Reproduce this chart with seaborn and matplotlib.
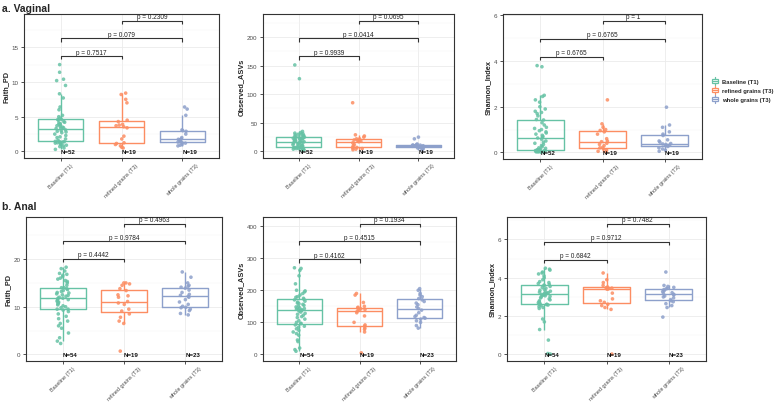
import numpy as np
import pandas as pd
import matplotlib
matplotlib.use("Agg")
import matplotlib.pyplot as plt
import seaborn as sns
from matplotlib.legend_handler import HandlerBase
from matplotlib.patches import Rectangle, Patch
from matplotlib.lines import Line2D
from matplotlib.ticker import MultipleLocator

# ---------------- data ----------------
groups = ["Baseline (T1)", "refined grains (T3)", "whole grains (T3)"]
palette = ["#66C2A5", "#FC8D62", "#8DA0CB"]
metrics = ["Faith_PD", "Observed_ASVs", "Shannon_Index"]

# Vaginal
vag_faith_base = [0.3, 0.5, 0.7, 0.8, 0.9, 1.0, 1.1, 1.2, 1.25, 1.3, 1.35, 1.4, 1.45,
                  1.45, 1.6, 1.8, 2.0, 2.1, 2.3, 2.5, 2.7, 2.8, 2.9, 3.0, 3.1, 3.3,
                  3.3, 3.4, 3.5, 3.6, 3.7, 3.8, 3.9, 4.0, 4.1, 4.2, 4.3, 4.5, 4.6,
                  4.6, 4.8, 5.0, 5.2, 6.0, 6.4, 7.7, 8.3, 9.5, 10.2, 10.4, 11.4, 12.5]
vag_faith_ref = [0.5, 0.6, 0.8, 1.0, 1.15, 1.25, 1.8, 2.2, 3.4, 3.55,
                 3.7, 3.8, 3.9, 4.3, 4.5, 7.0, 7.5, 8.2, 8.4]
vag_faith_whole = [0.8, 0.9, 1.0, 1.2, 1.25, 1.35, 1.4, 1.5, 1.7, 1.75,
                   1.8, 2.0, 2.5, 2.9, 3.0, 3.1, 5.2, 6.1, 6.4]

vag_obs_base = [2, 3, 4, 4, 5, 5, 6, 6, 7, 7, 7, 8, 8,
                8, 9, 10, 10, 11, 12, 13, 14, 14, 15, 16, 16, 17,
                17, 18, 19, 19, 20, 21, 21, 22, 23, 23, 24, 24, 25,
                25, 26, 27, 28, 29, 30, 30, 31, 32, 33, 35, 127, 151]
vag_obs_ref = [3, 4, 5, 6, 7, 7, 10, 12, 15, 17, 18, 19, 20, 22, 22, 25, 27, 29, 85]
vag_obs_whole = [3, 5, 6, 6, 7, 7, 8, 9, 9, 10, 10, 10, 11, 11, 11, 12, 13, 22, 25]

vag_shan_base = [0.01, 0.02, 0.03, 0.03, 0.04, 0.05, 0.05, 0.06, 0.07, 0.08, 0.08, 0.09, 0.1,
                 0.1, 0.12, 0.15, 0.18, 0.2, 0.25, 0.3, 0.35, 0.4, 0.45, 0.5, 0.58, 0.63,
                 0.67, 0.7, 0.75, 0.8, 0.85, 0.9, 0.95, 1.0, 1.05, 1.1, 1.2, 1.3, 1.42,
                 1.44, 1.6, 1.7, 1.75, 1.8, 1.9, 2.0, 2.2, 2.3, 2.45, 2.5, 3.75, 3.8]
vag_shan_ref = [0.02, 0.05, 0.1, 0.15, 0.2, 0.22, 0.3, 0.35, 0.4, 0.47,
                0.5, 0.6, 0.8, 0.9, 0.96, 1.0, 1.1, 1.25, 2.3]
vag_shan_whole = [0.05, 0.1, 0.15, 0.2, 0.26, 0.3, 0.32, 0.35, 0.37, 0.39,
                  0.45, 0.5, 0.55, 0.74, 0.8, 0.9, 1.1, 1.2, 1.98]

# Anal
anal_faith_base = [2.3, 2.8, 3.5, 4.5, 5.5, 6.0, 6.5, 7.0, 7.5, 8.0, 8.5, 9.0, 9.3, 9.5,
                   9.5, 9.8, 10.0, 10.2, 10.4, 10.6, 10.8, 11.0, 11.1, 11.3, 11.5, 11.6, 11.8,
                   11.8, 12.0, 12.2, 12.4, 12.5, 12.7, 12.9, 13.0, 13.2, 13.4, 13.6, 13.8, 14.0,
                   14.0, 14.5, 15.0, 15.3, 15.5, 15.8, 16.0, 16.3, 16.6, 16.8, 17.0, 17.5, 18.0, 18.3]
anal_faith_ref = [0.7, 6.5, 7.0, 7.8, 8.5, 9.1, 9.5, 10.5, 10.8, 11.1,
                  12.0, 12.3, 12.5, 13.4, 13.8, 14.5, 14.8, 15.0, 15.0]
anal_faith_whole = [8.3, 8.6, 9.2, 9.5, 9.8, 9.9, 10.1, 10.5, 11.0, 11.5, 12.0, 12.2,
                    12.4, 12.6, 13.0, 13.5, 13.9, 14.1, 14.3, 14.5, 15.0, 16.2, 17.3]

anal_obs_base = [10, 15, 20, 40, 45, 60, 65, 70, 75, 80, 85, 88, 92, 96,
                 97, 100, 105, 110, 115, 118, 122, 125, 128, 132, 135, 137, 139,
                 139, 141, 143, 145, 148, 150, 153, 156, 158, 160, 163, 166, 170,
                 172, 175, 178, 180, 185, 190, 195, 198, 200, 220, 245, 262, 268, 270]
anal_obs_ref = [5, 70, 78, 82, 88, 92, 100, 120, 130, 135,
                138, 140, 142, 145, 147, 150, 162, 185, 190]
anal_obs_whole = [82, 90, 100, 105, 110, 113, 115, 118, 122, 130, 138, 143,
                  148, 155, 160, 165, 170, 174, 180, 185, 190, 200, 205]

anal_shan_base = [0.02, 0.05, 0.75, 1.3, 1.7, 1.85, 2.4, 2.45, 2.5, 2.55, 2.58, 2.6, 2.62, 2.63,
                  2.65, 2.7, 2.75, 2.8, 2.85, 2.9, 2.95, 3.0, 3.03, 3.06, 3.09, 3.11, 3.13,
                  3.15, 3.18, 3.2, 3.22, 3.25, 3.28, 3.3, 3.35, 3.4, 3.45, 3.5, 3.55, 3.59,
                  3.62, 3.65, 3.7, 3.75, 3.8, 3.9, 4.0, 4.1, 4.2, 4.25, 4.3, 4.4, 4.45, 4.5]
anal_shan_ref = [0.02, 2.35, 2.45, 2.55, 2.62, 2.72, 2.8, 2.9, 3.2, 3.41,
                 3.42, 3.44, 3.46, 3.48, 3.52, 3.6, 3.75, 3.9, 4.25]
anal_shan_whole = [1.95, 2.45, 2.55, 2.65, 2.75, 2.8, 2.86, 2.95, 3.0, 3.05, 3.1, 3.14,
                   3.18, 3.22, 3.28, 3.33, 3.38, 3.42, 3.45, 3.5, 3.55, 3.6, 4.3]

# p-values for pairs (0,1), (0,2), (1,2)
pairs = [(0, 1), (0, 2), (1, 2)]
vag_pvals = [["0.7517", "0.079", "0.2309"],
             ["0.9939", "0.0414", "0.0695"],
             ["0.6765", "0.6765", "1"]]
anal_pvals = [["0.4442", "0.9784", "0.4963"],
              ["0.4162", "0.4515", "0.1934"],
              ["0.6842", "0.9712", "0.7482"]]

vag_data = [[vag_faith_base, vag_faith_ref, vag_faith_whole],
            [vag_obs_base, vag_obs_ref, vag_obs_whole],
            [vag_shan_base, vag_shan_ref, vag_shan_whole]]
anal_data = [[anal_faith_base, anal_faith_ref, anal_faith_whole],
             [anal_obs_base, anal_obs_ref, anal_obs_whole],
             [anal_shan_base, anal_shan_ref, anal_shan_whole]]

tick_steps_vag = [5, 50, 2]
tick_steps_anal = [10, 100, 2]

# ---------------- style ----------------
sns.set_theme(style="white")
plt.rcParams["font.family"] = ["Liberation Sans", "DejaVu Sans"]

fig = plt.figure(figsize=(7.79, 4.06), dpi=100)
W, H = 779.0, 406.0


def axes_px(x0, x1, y0, y1):
    return fig.add_axes([x0 / W, 1 - y1 / H, (x1 - x0) / W, (y1 - y0) / H])


ax_boxes = {
    "vag": [(24, 219, 15, 159), (263, 454, 15, 159), (503, 702, 15, 160)],
    "anal": [(26, 222, 218, 362), (263, 456, 218, 362), (507, 706, 218, 362)],
}

np.random.seed(7)


def draw_panel(ax, values, metric, pvals, step):
    rows = []
    for g, vals in zip(groups, values):
        for v in vals:
            rows.append((g, v))
    df = pd.DataFrame(rows, columns=["group", "value"])
    sns.boxplot(data=df, x="group", y="value", hue="group", order=groups,
                hue_order=groups, palette=palette, fill=False, showfliers=False,
                width=0.75, linewidth=1.0, showcaps=False, legend=False, ax=ax,
                zorder=2)
    sns.stripplot(data=df, x="group", y="value", hue="group", order=groups,
                  hue_order=groups, palette=palette, jitter=0.1, size=2.6,
                  alpha=0.85, linewidth=0, legend=False, ax=ax, zorder=3)
    allv = df["value"].values
    ymax, ymin = allv.max(), allv.min()
    span = ymax - ymin
    ys = [ymax + span * (0.1 + 0.21 * k) for k in range(3)]
    top = ys[-1]
    tip = 0.025 * top
    for (a, b), y, p in zip(pairs, ys, pvals):
        ax.plot([a, a, b, b], [y - tip, y, y, y - tip], color="#333333",
                lw=0.8, solid_capstyle="butt", zorder=4)
        ax.text((a + b) / 2, y + 0.004 * top, f"p = {p}", ha="center", va="bottom",
                fontsize=4.7, color="#222222")
    for i, vals in enumerate(values):
        ax.text(i, 0, f"N={len(vals)}", ha="left", va="center", fontsize=4.4,
                fontweight="bold", color="#111111", zorder=5)
    ax.set_xlim(-0.6, 2.6)
    ax.set_ylim(-0.05 * top, 1.05 * top)
    ax.yaxis.set_major_locator(MultipleLocator(step))
    ax.yaxis.set_minor_locator(MultipleLocator(step / 2))
    ax.set_axisbelow(True)
    ax.grid(True, which="major", color="#EBEBEB", lw=0.6)
    ax.grid(True, which="minor", axis="y", color="#F3F3F3", lw=0.35)
    ax.tick_params(axis="both", which="major", length=2.5, width=0.6,
                   color="#333333", labelsize=4.5, labelcolor="#4D4D4D", pad=1.5,
                   bottom=True, left=True)
    ax.tick_params(axis="x", which="major", pad=0.8, labelsize=4.0)
    ax.tick_params(axis="both", which="minor", length=0)
    ax.set_xticks(range(3))
    ax.set_xticklabels(groups, rotation=45, ha="center", va="top")
    ax.set_xlabel("")
    ax.set_ylabel(metric, fontsize=5.3, fontweight="bold", labelpad=1.5)
    for s in ax.spines.values():
        s.set_color("#333333")
        s.set_linewidth(0.8)


for key, data, pvs, steps in [("vag", vag_data, vag_pvals, tick_steps_vag),
                              ("anal", anal_data, anal_pvals, tick_steps_anal)]:
    for j in range(3):
        ax = axes_px(*ax_boxes[key][j])
        draw_panel(ax, data[j], metrics[j], pvs[j], steps[j])

fig.text(2 / W, 1 - 9 / H, "a. Vaginal", fontsize=7.5, fontweight="bold",
         va="center", ha="left")
fig.text(2 / W, 1 - 207 / H, "b. Anal", fontsize=7.5, fontweight="bold",
         va="center", ha="left")


class BoxKey(HandlerBase):
    def create_artists(self, legend, orig_handle, xd, yd, w, h, fontsize, trans):
        c = orig_handle.get_edgecolor()
        x0 = -xd + 0.12 * w
        bw = 0.76 * w
        arts = [
            Rectangle((x0, -yd + 0.25 * h), bw, 0.5 * h, facecolor="white",
                      edgecolor=c, lw=0.9, transform=trans),
            Line2D([x0, x0 + bw], [-yd + 0.5 * h] * 2, color=c, lw=0.9,
                   transform=trans),
            Line2D([x0 + bw / 2] * 2, [-yd + 0.0 * h, -yd + 0.25 * h], color=c,
                   lw=0.9, transform=trans),
            Line2D([x0 + bw / 2] * 2, [-yd + 0.75 * h, -yd + 1.0 * h], color=c,
                   lw=0.9, transform=trans),
        ]
        return arts


handles = [Patch(facecolor="white", edgecolor=c) for c in palette]
fig.legend(handles, groups, loc="center left", bbox_to_anchor=(707 / W, 1 - 91 / H),
           frameon=False, handler_map={Patch: BoxKey()},
           handlelength=1.3, handleheight=1.6, handletextpad=0.5, labelspacing=0.3,
           borderpad=0.2, prop={"weight": "bold", "size": 4.2})

fig.savefig("out.png", dpi=100)
